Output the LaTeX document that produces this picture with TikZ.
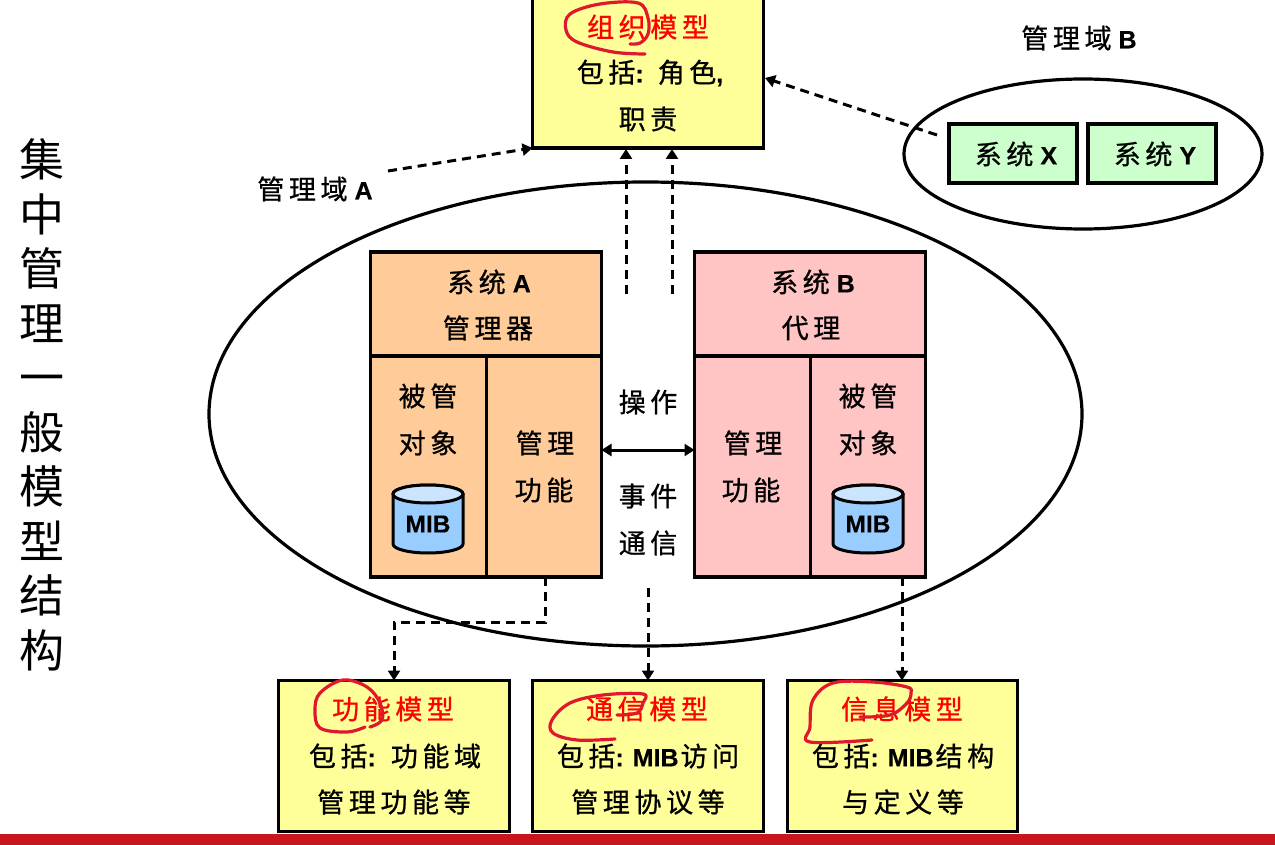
\documentclass[tikz,border=0pt]{standalone}
\usepackage{fontspec}
\setmainfont{Liberation Sans}[BoldFeatures={FakeBold=0.4}]
\newfontfamily\cn[LetterSpace=17,FakeBold=0.8]{Noto Sans CJK SC}
\newfontfamily\cntitle{Noto Sans CJK SC}
\usetikzlibrary{arrows.meta,calc,shapes.geometric}
\definecolor{yel}{HTML}{FFFF99}
\definecolor{org}{HTML}{FFCC99}
\definecolor{pnk}{HTML}{FFC4C4}
\definecolor{grn}{HTML}{CCFFCC}
\definecolor{cylb}{HTML}{99CCFF}
\definecolor{cylt}{HTML}{CCE5FF}
\definecolor{ink}{HTML}{E0182D}
\definecolor{barred}{HTML}{C8161D}
\newcommand{\la}[1]{{\normalfont\fontsize{25}{28}\selectfont\bfseries #1}}
\newcommand{\gp}{\hspace{7pt}}
\tikzset{
  x=1pt,y=-1pt,
  rbox/.style={draw=black,line width=3.2pt,rectangle,outer sep=0pt,inner sep=0pt},
  blob/.style={draw=black,line width=3.2pt,fill=none},
  lab/.style={font=\fontsize{27}{30}\selectfont\cn,text=black,inner sep=0pt},
  redlab/.style={lab,text=red},
  miblab/.style={font=\fontsize{24.5}{28}\selectfont\bfseries,inner sep=0pt},
  dsh/.style={draw=black,line width=3pt,dash pattern=on 9pt off 6pt,-{Triangle[length=10pt,width=12pt]}},
  dbl/.style={draw=black,line width=3pt,{Triangle[length=10pt,width=12pt]}-{Triangle[length=10pt,width=12pt]}},
  scribble/.style={draw=ink,line width=3.2pt,line cap=round,line join=round},
}
\newcommand{\cyl}[1]{%
  \filldraw[fill=cylb,draw=black,line width=3pt] (#1-35,494) -- (#1-35,544)
     arc[start angle=180,end angle=360,x radius=35pt,y radius=9pt] -- (#1+35,494)
     arc[start angle=0,end angle=180,x radius=35pt,y radius=9pt] -- cycle;
  \filldraw[fill=cylt,draw=black,line width=3pt] (#1,494) ellipse[x radius=35pt,y radius=9pt];
}
\begin{document}
\begin{tikzpicture}
\useasboundingbox (0,0) rectangle (1275,845);
\clip (0,0) rectangle (1275,845);
\fill[white] (0,0) rectangle (1275,845);
\fill[barred] (0,834) rectangle (1275,845);

% title
\node[inner sep=0pt,align=center,font=\fontsize{45}{54.5}\selectfont\cntitle] (title) at (42,405)
  {集\\中\\管\\理\\一\\般\\模\\型\\结\\构};

% ellipses
\node[blob,ellipse,minimum width=873pt,minimum height=464pt,inner sep=0pt,outer sep=0pt] (domA) at (645.5,414) {};
\node[blob,ellipse,minimum width=358pt,minimum height=150pt,inner sep=0pt,outer sep=0pt] (domB) at (1083,154) {};

% top box
\node[rbox,fill=yel,minimum width=231pt,minimum height=154pt] (orgm) at (648,71) {};
\node[redlab] (orgt) at (648,27) {组织模型};
\node[lab] (orgl1) at (650,73) {包括\la{:}\hspace{14pt}角色\la{,}};
\node[lab] (orgl2) at (648,119) {职责};

% domain labels
\node[lab] (labA) at (315,189) {管理域\gp\la{A}};
\node[lab] (labB) at (1079,38) {管理域\gp\la{B}};

% systems X, Y
\node[rbox,fill=grn,minimum width=128pt,minimum height=59pt] (sx) at (1013,153.5) {};
\node[rbox,fill=grn,minimum width=128pt,minimum height=59pt] (sy) at (1152,153.5) {};
\node[lab] (sxt) at (1016,154) {系统\gp\la{X}};
\node[lab] (syt) at (1155,154) {系统\gp\la{Y}};

% system A
\node[rbox,fill=org,minimum width=231pt,minimum height=325pt] (sa) at (486,414.5) {};
\coordinate (sa1) at (371,356); \coordinate (sa2) at (486.5,356);
\draw[line width=3.2pt] (sa1 -| sa.west) -- (sa1 -| sa.east);
\draw[line width=3.2pt] (sa2) -- (sa2 |- sa.south);
\node[lab] (at1) at (489,282) {系统\gp\la{A}};
\node[lab] (at2) at (488,328) {管理器};
\node[lab] (at3) at (428,396) {被管};
\node[lab] (at4) at (428,443) {对象};
\node[lab] (at5) at (545,443) {管理};
\node[lab] (at6) at (544,490) {功能};
\cyl{428}
\node[miblab] (mibA) at (428,524) {MIB};

% system B
\node[rbox,fill=pnk,minimum width=231pt,minimum height=325pt] (sb) at (810,414.5) {};
\coordinate (sb1) at (695,356); \coordinate (sb2) at (810.5,356);
\draw[line width=3.2pt] (sb1 -| sb.west) -- (sb1 -| sb.east);
\draw[line width=3.2pt] (sb2) -- (sb2 |- sb.south);
\node[lab] (bt1) at (813,282) {系统\gp\la{B}};
\node[lab] (bt2) at (811,328) {代理};
\node[lab] (bt3) at (753,443) {管理};
\node[lab] (bt4) at (751,490) {功能};
\node[lab] (bt5) at (868,396) {被管};
\node[lab] (bt6) at (868,443) {对象};
\cyl{868}
\node[miblab] (mibB) at (868,524) {MIB};

% middle
\node[lab] (m1) at (648,402) {操作};
\node[lab] (m2) at (648,496) {事件};
\node[lab] (m3) at (648,543) {通信};

% bottom boxes
\node[rbox,fill=yel,minimum width=231pt,minimum height=151pt] (fm) at (394,756) {};
\node[rbox,fill=yel,minimum width=231pt,minimum height=151pt] (cm) at (648,756) {};
\node[rbox,fill=yel,minimum width=230pt,minimum height=151pt] (im) at (902.5,756) {};
\node[redlab] (ft) at (393,709) {功能模型};
\node[lab] (f1) at (395,756) {包括\la{:}\hspace{15pt}功能域};
\node[lab] (f2) at (394,802) {管理功能等};
\node[redlab] (ct) at (647,709) {通信模型};
\node[lab] (c1) at (648,756) {包括\la{:}\hspace{9pt}\la{MIB}\hspace{2pt}访问};
\node[lab] (c2) at (648,802) {管理协议等};
\node[redlab] (it) at (902,709) {信息模型};
\node[lab] (i1) at (903,756) {包括\la{:}\hspace{9pt}\la{MIB}\hspace{2pt}结构};
\node[lab] (i2) at (903,802) {与定义等};

% connectors
\coordinate (a1) at (388,171);
\coordinate (a2) at (937,135);
\coordinate (a3) at (626,294);
\coordinate (a4) at (672,294);
\coordinate (o3) at (626,149);
\coordinate (o4) at (672,149);
\coordinate (o2) at (765,78);
\coordinate (mid) at (648,450);
\coordinate (b1) at (545,577);
\coordinate (b1a) at (545,622);
\coordinate (b1b) at (394,622);
\coordinate (b2) at (648,588);
\coordinate (b3) at (902,577);
\draw[dsh] (a1) -- (orgm.south west);
\draw[dsh] (a2) -- (o2);
\draw[dsh] (a3) -- (o3);
\draw[dsh] (a4) -- (o4);
\draw[dbl] (mid -| sa.east) -- (mid -| sb.west);
\draw[dsh] (b1) -- (b1a) -- (b1b) -- (b1b |- fm.north);
\draw[dsh] (b2) -- (b2 |- cm.north);
\draw[dsh] (b3) -- (b3 |- im.north);

% red pen marks
\draw[scribble] plot[smooth,tension=0.6] coordinates {(645,54) (613,52) (577,42) (566,30) (570,14) (600,4) (638,3) (648,18) (648,34) (640,43) (630,44)};
\draw[scribble] plot[smooth,tension=0.6] coordinates {(365,727) (347,732) (320,728) (315,710) (320,693) (343,680) (367,687) (380,703) (382,720) (370,727)};
\draw[scribble] plot[smooth,tension=0.6] coordinates {(615,739) (577,740) (553,733) (552,720) (570,703) (603,695) (643,694) (643,703) (637,713) (617,715)};
\draw[scribble] plot[smooth,tension=0.6] coordinates {(872,740) (810,742) (810,727) (813,700) (833,683) (873,682) (907,687) (911,693) (907,703) (890,715) (860,717)};
\end{tikzpicture}
\end{document}
